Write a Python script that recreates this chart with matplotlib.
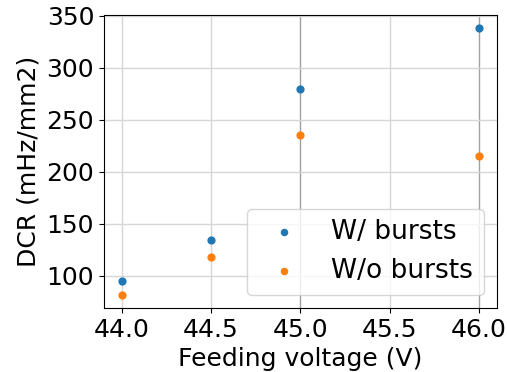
import matplotlib
matplotlib.use("Agg")
import matplotlib.pyplot as plt

# Feeding voltage (V) and dark count rate (mHz/mm2)
voltage = [44.0, 44.5, 45.0, 46.0]
dcr_with_bursts = [95, 134, 280, 338]
dcr_without_bursts = [82, 118, 235, 215]
xticks = [44.0, 44.5, 45.0, 45.5, 46.0]
yticks = [100, 150, 200, 250, 300, 350]

plt.rcParams['font.size'] = 18

fig, ax = plt.subplots(figsize=(5.07, 3.72), dpi=100)
ax.scatter(voltage, dcr_with_bursts, s=24, color='tab:blue', label='W/ bursts', zorder=3)
ax.scatter(voltage, dcr_without_bursts, s=24, color='tab:orange', label='W/o bursts', zorder=3)

ax.set_xlabel('Feeding voltage (V)')
ax.set_ylabel('DCR (mHz/mm2)')
ax.set_xticks(xticks)
ax.set_yticks(yticks)
ax.set_ylim(69, 351)
ax.grid(True, color='#d6d6d6', linewidth=1.0)
# the gridlines at 45.0 and 46.0 look darker in the original
for tick, line in zip(xticks, ax.get_xgridlines()):
    if tick in (45.0, 46.0):
        line.set_color('#a0a0a0')
ax.legend(loc='lower right', fontsize=19, markerscale=0.9)

fig.subplots_adjust(left=0.205, right=0.98, top=0.96, bottom=0.172)
fig.savefig('out.png', dpi=100)
